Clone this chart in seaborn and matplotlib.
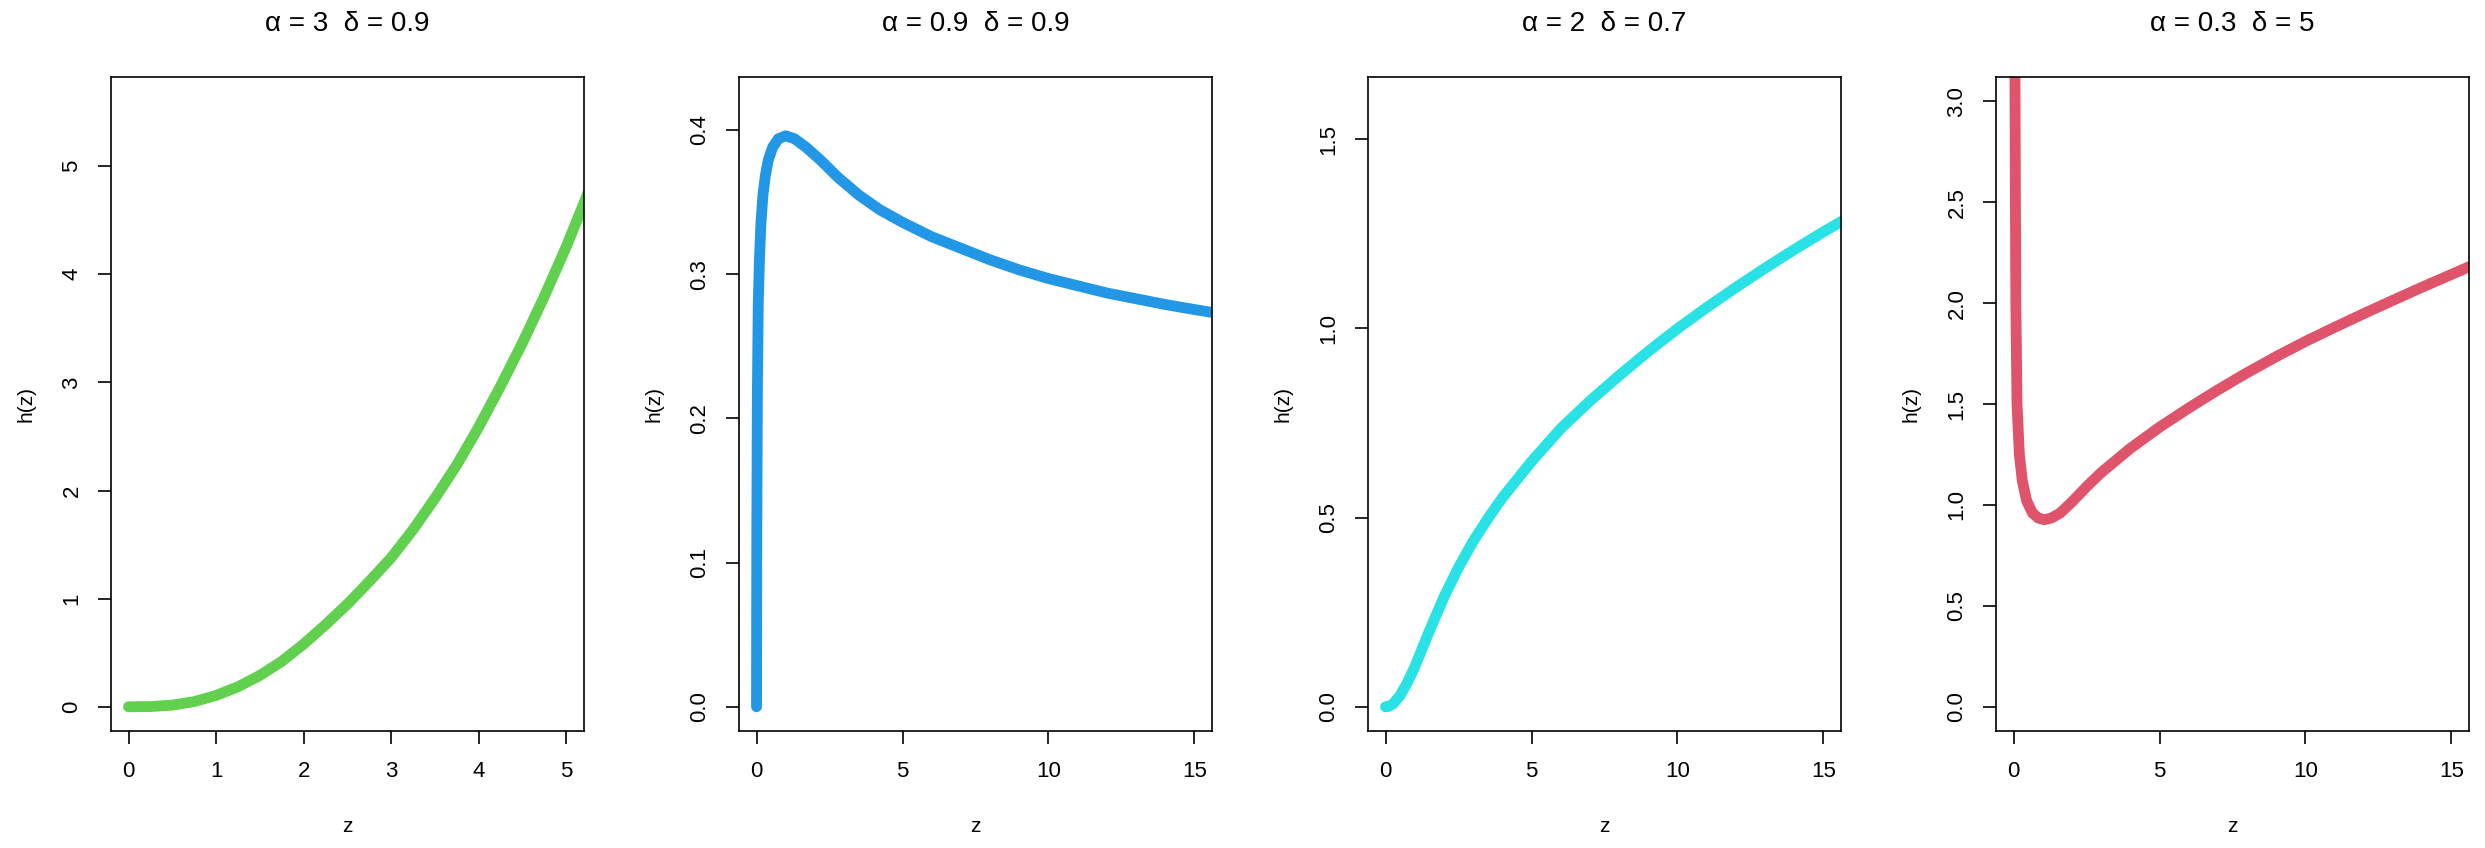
import numpy as np
import pandas as pd
import matplotlib
matplotlib.use("Agg")
import matplotlib.pyplot as plt
import seaborn as sns

sns.set_theme(style="ticks")
plt.rcParams["font.family"] = ["Liberation Sans", "DejaVu Sans"]

# values
titles = ["α = 3  δ = 0.9", "α = 0.9  δ = 0.9", "α = 2  δ = 0.7", "α = 0.3  δ = 5"]
colors = ["#61D04F", "#2297E6", "#28E2E5", "#DF536B"]

z1 = [0, 0.25, 0.5, 0.75, 1.0, 1.25, 1.5, 1.75, 2.0, 2.25, 2.5, 2.75, 3.0, 3.25, 3.5,
      3.75, 4.0, 4.25, 4.5, 4.75, 5.0, 5.25]
h1 = [0, 0.002, 0.015, 0.048, 0.105, 0.185, 0.29, 0.42, 0.58, 0.76, 0.95, 1.16, 1.38,
      1.64, 1.93, 2.24, 2.59, 2.97, 3.37, 3.80, 4.26, 4.76]

z2 = [0, 0.01, 0.03, 0.06, 0.1, 0.15, 0.22, 0.3, 0.4, 0.55, 0.75, 1.0, 1.3, 1.7, 2.2, 2.8,
      3.5, 4.2, 5, 6, 7, 8, 9, 10, 11, 12, 13, 14, 15, 15.7]
h2 = [0, 0.12, 0.22, 0.28, 0.31, 0.335, 0.355, 0.368, 0.379, 0.388, 0.394, 0.396, 0.394,
      0.388, 0.379, 0.367, 0.355, 0.345, 0.336, 0.326, 0.318, 0.310, 0.303, 0.297, 0.292,
      0.287, 0.283, 0.279, 0.2755, 0.2732]

z3 = [0, 0.1, 0.25, 0.5, 0.75, 1, 1.5, 2, 2.5, 3, 3.5, 4, 5, 6, 7, 8, 9, 10, 11, 12, 13,
      14, 15, 15.7]
h3 = [0, 0.001, 0.007, 0.03, 0.064, 0.105, 0.2, 0.29, 0.368, 0.437, 0.497, 0.552, 0.648,
      0.735, 0.808, 0.875, 0.939, 0.999, 1.055, 1.108, 1.159, 1.208, 1.255, 1.286]

z4 = [0.035, 0.05, 0.065, 0.08, 0.12, 0.2, 0.3, 0.45, 0.65, 0.85, 1.05, 1.3, 1.6, 2.0, 2.5,
      3, 4, 5, 6, 7, 8, 9, 10, 11, 12, 13, 14, 15, 15.7]
h4 = [3.8, 3.1, 2.5, 2.0, 1.5, 1.25, 1.12, 1.02, 0.96, 0.935, 0.927, 0.935, 0.96, 1.015,
      1.09, 1.16, 1.28, 1.385, 1.48, 1.57, 1.655, 1.735, 1.81, 1.88, 1.948, 2.014, 2.079,
      2.142, 2.186]

xlims = [(-0.2, 5.2), (-0.6, 15.6), (-0.6, 15.6), (-0.6, 15.6)]
ylims = [(-0.224, 5.824), (-0.0168, 0.4368), (-0.064, 1.664), (-0.12, 3.12)]
xticks = [[0, 1, 2, 3, 4, 5], [0, 5, 10, 15], [0, 5, 10, 15], [0, 5, 10, 15]]
yticks = [[0, 1, 2, 3, 4, 5], [0.0, 0.1, 0.2, 0.3, 0.4], [0.0, 0.5, 1.0, 1.5],
          [0.0, 0.5, 1.0, 1.5, 2.0, 2.5, 3.0]]
yfmt = ["%d", "%.1f", "%.1f", "%.1f"]

W, H = 2485, 848
lefts = [111, 739, 1368, 1996]
aw, ah, bottom = 473, 654, 848 - 731

fig = plt.figure(figsize=(W / 100, H / 100), dpi=100)
fig.patch.set_facecolor("white")

curves = [(z1, h1), (z2, h2), (z3, h3), (z4, h4)]
for i, (zz, hh) in enumerate(curves):
    ax = fig.add_axes([lefts[i] / W, bottom / H, aw / W, ah / H])
    ax.set_facecolor("white")
    df = pd.DataFrame({"z": zz, "h": hh})
    sns.lineplot(data=df, x="z", y="h", ax=ax, color=colors[i], linewidth=7.8,
                 solid_capstyle="round", solid_joinstyle="round", estimator=None)
    ax.set_xlim(*xlims[i])
    ax.set_ylim(*ylims[i])
    ax.set_xticks(xticks[i])
    ax.set_yticks(yticks[i])
    ax.set_yticklabels([yfmt[i] % v for v in yticks[i]], rotation=90, va="center")
    for s in ax.spines.values():
        s.set_visible(True)
        s.set_color("black")
        s.set_linewidth(1.2)
    ax.tick_params(axis="both", length=9.5, width=1.2, color="black",
                   labelsize=16, labelcolor="black")
    ax.tick_params(axis="x", pad=12)
    ax.tick_params(axis="y", pad=11)
    ax.set_xlabel("z", fontsize=15, color="black")
    ax.set_ylabel("h(z)", fontsize=15, color="black")
    ax.xaxis.set_label_coords(0.5, -(826 - 731) / ah)
    ax.xaxis.label.set_va("center")
    ax.yaxis.set_label_coords(-85 / aw, 0.5)
    ax.yaxis.label.set_va("center")
    ax.text(0.5, 1 + 53 / ah, titles[i], transform=ax.transAxes, ha="center",
            va="center", fontsize=20, color="black")
    ax.grid(False)

fig.savefig("out.png", dpi=100)
